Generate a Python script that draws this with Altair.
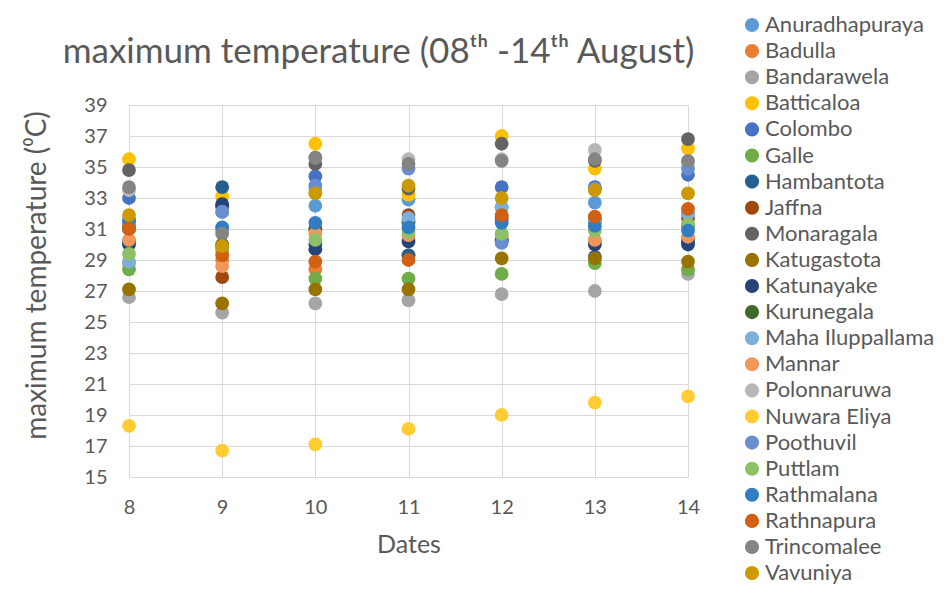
import altair as alt
import pandas as pd

dates = [8, 9, 10, 11, 12, 13, 14]
stations = ["Anuradhapuraya", "Badulla", "Bandarawela", "Batticaloa", "Colombo", "Galle",
            "Hambantota", "Jaffna", "Monaragala", "Katugastota", "Katunayake", "Kurunegala",
            "Maha Iluppallama", "Mannar", "Polonnaruwa", "Nuwara Eliya", "Poothuvil",
            "Puttlam", "Rathmalana", "Rathnapura", "Trincomalee", "Vavuniya"]
colors = ["#5B9BD5", "#ED7D31", "#A5A5A5", "#FFC000", "#4472C4", "#70AD47",
          "#255E91", "#9E480E", "#636363", "#997300", "#264478", "#43682B",
          "#7CAFDD", "#F1975A", "#B7B7B7", "#FFCD33", "#698ED0", "#8CC168",
          "#327DC2", "#D26012", "#848484", "#CC9A00"]

anuradhapuraya = [31.5, 31.0, 32.5, 32.9, 32.4, 32.7, 32.0]
badulla = [28.8, 29.0, 28.4, 29.3, 30.4, 30.2, 30.4]
bandarawela = [26.6, 25.6, 26.2, 26.4, 26.8, 27.0, 28.1]
batticaloa = [35.5, 33.1, 36.5, 33.2, 37.0, 34.9, 36.2]
colombo = [33.0, 32.4, 34.4, 31.4, 33.7, 33.7, 34.5]
galle = [28.4, 29.8, 27.8, 27.8, 28.1, 28.8, 28.4]
hambantota = [30.2, 33.7, 30.0, 29.3, 30.3, 29.2, 30.2]
jaffna = [31.2, 27.9, 31.0, 31.9, 31.6, 31.5, 31.7]
monaragala = [34.8, 32.5, 35.2, 33.6, 36.5, 35.4, 36.8]
katugastota = [27.1, 26.2, 27.1, 27.1, 29.1, 29.1, 28.9]
katunayake = [30.0, 32.6, 29.7, 30.2, 30.2, 30.0, 30.0]
kurunegala = [31.0, 30.0, 31.0, 31.5, 31.8, 31.6, 31.2]
maha_iluppallama = [28.9, 32.1, 33.6, 31.7, 32.4, 31.5, 32.0]
mannar = [30.3, 28.6, 30.7, 30.6, 30.6, 30.3, 30.5]
polonnaruwa = [33.5, 30.9, 35.6, 35.5, 35.5, 36.1, 35.3]
nuwara_eliya = [18.3, 16.7, 17.1, 18.1, 19.0, 19.8, 20.2]
poothuvil = [31.4, 32.1, 33.8, 34.9, 30.1, 33.6, 34.9]
puttlam = [29.4, 29.6, 30.3, 30.8, 30.7, 30.9, 31.3]
rathmalana = [31.6, 31.1, 31.4, 31.1, 31.4, 31.2, 30.9]
rathnapura = [31.0, 29.3, 28.9, 29.0, 31.9, 31.8, 32.3]
trincomalee = [33.7, 30.7, 35.6, 35.2, 35.4, 35.5, 35.4]
vavuniya = [31.9, 29.9, 33.3, 33.8, 33.0, 33.5, 33.3]

series = [anuradhapuraya, badulla, bandarawela, batticaloa, colombo, galle,
          hambantota, jaffna, monaragala, katugastota, katunayake, kurunegala,
          maha_iluppallama, mannar, polonnaruwa, nuwara_eliya, poothuvil,
          puttlam, rathmalana, rathnapura, trincomalee, vavuniya]

rows = []
for i, (name, vals) in enumerate(zip(stations, series)):
    for d, v in zip(dates, vals):
        rows.append({"Station": name, "Date": d, "Temp": v, "order": i})
df = pd.DataFrame(rows)

FONT = "Lato"
TXT = "#595959"

chart = alt.Chart(df).mark_circle(size=190, opacity=1).encode(
    x=alt.X("Date:Q", scale=alt.Scale(domain=[8, 14], nice=False, zero=False),
            axis=alt.Axis(values=dates, title="Dates", grid=True, gridColor="#D9D9D9",
                          domain=False, ticks=False, labelFontSize=20, labelColor=TXT,
                          labelFont=FONT, labelPadding=20, labelFlush=False,
                          titleFont=FONT, titleFontSize=25,
                          titleColor=TXT, titleFontWeight="normal", titlePadding=15)),
    y=alt.Y("Temp:Q", scale=alt.Scale(domain=[15, 39], nice=False, zero=False),
            axis=alt.Axis(values=list(range(15, 40, 2)), title="maximum temperature (⁰C)",
                          grid=True, gridColor="#D9D9D9", domain=False, ticks=False,
                          labelFontSize=20, labelColor=TXT, labelFont=FONT, labelPadding=22,
                          labelFlush=False,
                          titleFont=FONT, titleFontSize=28, titleColor=TXT,
                          titleFontWeight="normal", titlePadding=32, titleY=170)),
    color=alt.Color("Station:N", scale=alt.Scale(domain=stations, range=colors),
                    sort=stations,
                    legend=alt.Legend(title=None, orient="none", legendX=612, legendY=-91,
                                      labelFont=FONT, labelFontSize=22, labelColor=TXT,
                                      labelLimit=300,
                                      symbolType="circle", symbolSize=200, rowPadding=4.1,
                                      labelOffset=2, symbolStrokeWidth=0)),
    order=alt.Order("order:Q"),
).properties(
    width=559, height=372,
    title=alt.TitleParams("maximum temperature (08ᵗʰ -14ᵗʰ August)",
                          font="Lato, DejaVu Sans", fontSize=35,
                          color=TXT, fontWeight="normal", anchor="middle", dx=-30, dy=126,
                          frame="group", baseline="alphabetic", offset=42),
    autosize=alt.AutoSizeParams(type="none"),
    padding={"left": 121, "top": 97, "right": 255, "bottom": 110},
).configure_view(stroke=None)

chart.save("out.html", embed_options={"renderer": "svg", "actions": False})
